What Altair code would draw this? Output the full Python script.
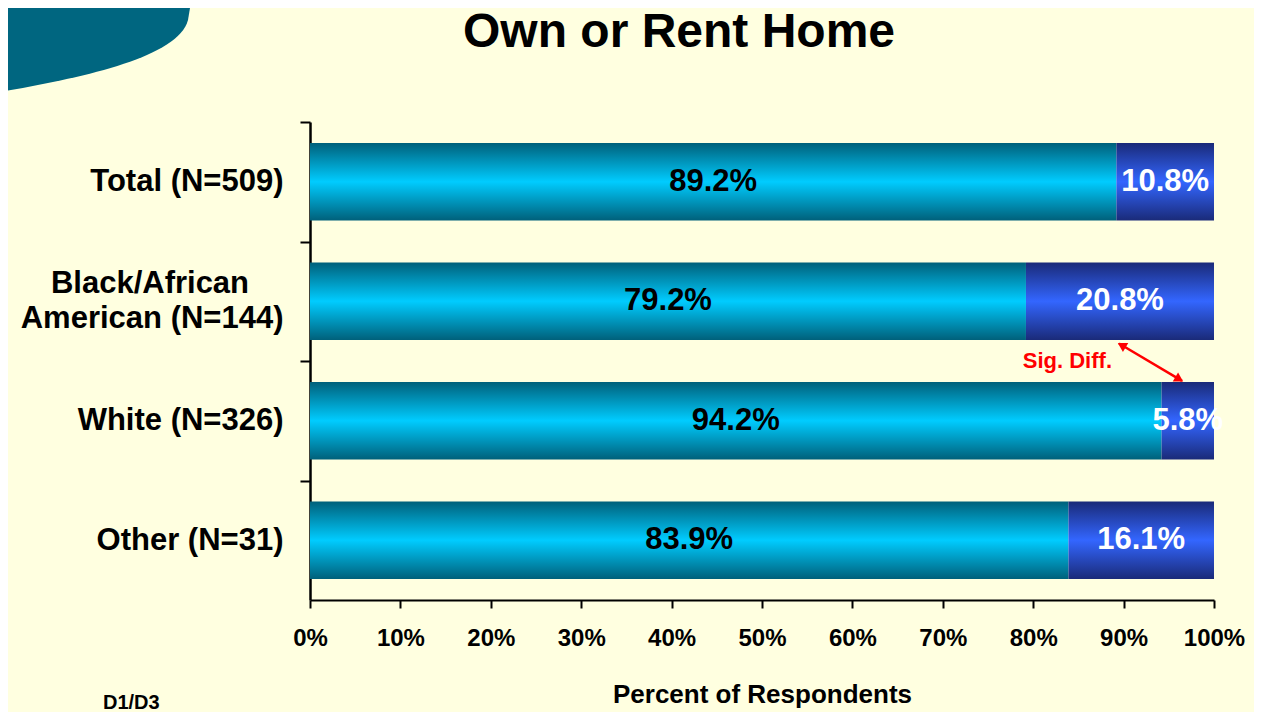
import altair as alt
import pandas as pd

# ---- data ----
categories = ["Total (N=509)", "Black/African\u00a0\u00a0\u00a0\u00a0\u2060|American (N=144)",
              "White (N=326)", "Other (N=31)"]
own_pct = [89.2, 79.2, 94.2, 83.9]
rent_pct = [10.8, 20.8, 5.8, 16.1]
x_ticks = [0, 10, 20, 30, 40, 50, 60, 70, 80, 90, 100]
chart_title = "Own or Rent Home"

FONT = "Liberation Sans"
BG = "#FFFFE0"

df = pd.DataFrame({"group": categories, "own": own_pct, "rent": rent_pct})
one = pd.DataFrame({"k": [0]})

own_grad = alt.LinearGradient(
    gradient="linear", x1=0, y1=0, x2=0, y2=1,
    stops=[alt.GradientStop(offset=0, color="#00607A"),
           alt.GradientStop(offset=0.5, color="#00CCFF"),
           alt.GradientStop(offset=1, color="#00607A")])
rent_grad = alt.LinearGradient(
    gradient="linear", x1=0, y1=0, x2=0, y2=1,
    stops=[alt.GradientStop(offset=0, color="#1A2A78"),
           alt.GradientStop(offset=0.5, color="#3366FF"),
           alt.GradientStop(offset=1, color="#1A2A78")])

STEP = 478 / 4.0

y_axis = alt.Axis(
    title=None, labelFont=FONT, labelFontSize=31, labelFontWeight="bold",
    labelColor="black", labelPadding=17, labelLimit=500, labelLineHeight=35,
    labelExpr="split(datum.label, '|')",
    tickSize=10, tickWidth=2, tickColor="black", tickOffset=-STEP / 2,
    labelOffset={"condition": {"test": "indexof(datum.value, '|') >= 0",
                               "value": STEP / 2 - 18},
                 "value": STEP / 2},
    domainColor="black", domainWidth=2.5)
y_enc = alt.Y("group:N", sort=categories,
              scale=alt.Scale(paddingInner=0.35, paddingOuter=0.175),
              axis=y_axis)

x_scale = alt.Scale(domain=[0, 100], nice=False)
x_axis = alt.Axis(
    title="Percent of Respondents", titleFont=FONT, titleFontSize=26,
    titleFontWeight="bold", titleColor="black", titleBaseline="alphabetic",
    titleY=102, values=x_ticks, labelExpr="datum.value + '%'",
    labelFont=FONT, labelFontSize=24, labelFontWeight="bold", labelColor="black",
    labelPadding=18, labelFlush=False, tickSize=8, tickWidth=2, tickColor="black",
    domainColor="black", domainWidth=2, grid=False)

base = alt.Chart(df).transform_calculate(
    zero="0",
    total="datum.own + datum.rent",
    own_mid="datum.own / 2",
    rent_mid="datum.own + datum.rent / 2",
    own_lbl="format(datum.own, '.1f') + '%'",
    rent_lbl="format(datum.rent, '.1f') + '%'",
)

own_bars = base.mark_bar(color=own_grad).encode(
    y=y_enc,
    x=alt.X("zero:Q", scale=x_scale, axis=x_axis),
    x2="own:Q",
)
rent_bars = base.mark_bar(color=rent_grad).encode(
    y=y_enc,
    x=alt.X("own:Q", scale=x_scale, axis=x_axis),
    x2="total:Q",
)
own_text = base.mark_text(font=FONT, fontSize=31, fontWeight="bold",
                          color="black", baseline="middle", align="center").encode(
    y=y_enc,
    x=alt.X("own_mid:Q", scale=x_scale, axis=x_axis),
    text="own_lbl:N",
)
rent_text = base.mark_text(font=FONT, fontSize=31, fontWeight="bold",
                           color="white", baseline="middle", align="center").encode(
    y=y_enc,
    x=alt.X("rent_mid:Q", scale=x_scale, axis=x_axis),
    text="rent_lbl:N",
)

# ---- annotations ----
swoosh_path = ("M -0.55 -0.21 L 0.45 -0.21 L 0.44 -0.15 "
               "C 0.39 0.04 -0.1 0.14 -0.5 0.21 L -0.55 0.21 Z")
swoosh = alt.Chart(one).mark_point(
    shape=swoosh_path, filled=True, size=160000, color="#006680", opacity=1,
    strokeWidth=0).encode(x=alt.value(-210), y=alt.value(-72))

title_text = alt.Chart(one).mark_text(
    text=chart_title, font=FONT, fontSize=48, fontWeight="bold", color="black",
    align="center", baseline="alphabetic").encode(x=alt.value(369), y=alt.value(-75))

arrow_line = alt.Chart(one).mark_rule(color="#FF0000", strokeWidth=2.5).encode(
    x=alt.value(809), y=alt.value(221.5), x2=alt.value(872), y2=alt.value(258.8))
head_a = alt.Chart(one).mark_point(
    shape="triangle-up", filled=True, size=110, angle=300.6, color="#FF0000",
    opacity=1).encode(x=alt.value(811.7), y=alt.value(223.2))
head_b = alt.Chart(one).mark_point(
    shape="triangle-up", filled=True, size=110, angle=120.6, color="#FF0000",
    opacity=1).encode(x=alt.value(869.3), y=alt.value(257.3))
sig_text = alt.Chart(one).mark_text(
    text="Sig. Diff.", font=FONT, fontSize=22, fontWeight="bold", color="#FF0000",
    align="right", baseline="alphabetic").encode(x=alt.value(802), y=alt.value(246))
d_text = alt.Chart(one).mark_text(
    text="D1/D3", font=FONT, fontSize=20, fontWeight="bold", color="black",
    align="left", baseline="alphabetic").encode(x=alt.value(-207), y=alt.value(587))

chart = alt.layer(
    swoosh, title_text, own_bars, rent_bars, own_text, rent_text,
    arrow_line, head_a, head_b, sig_text, d_text,
).properties(
    width=904, height=478,
    padding={"left": 302, "top": 114, "right": 40, "bottom": 112},
    autosize=alt.AutoSizeParams(type="none"),
).configure(
    background=BG,
).configure_view(stroke=None)

chart.save("out.html", embed_options={"renderer": "svg", "actions": False})
